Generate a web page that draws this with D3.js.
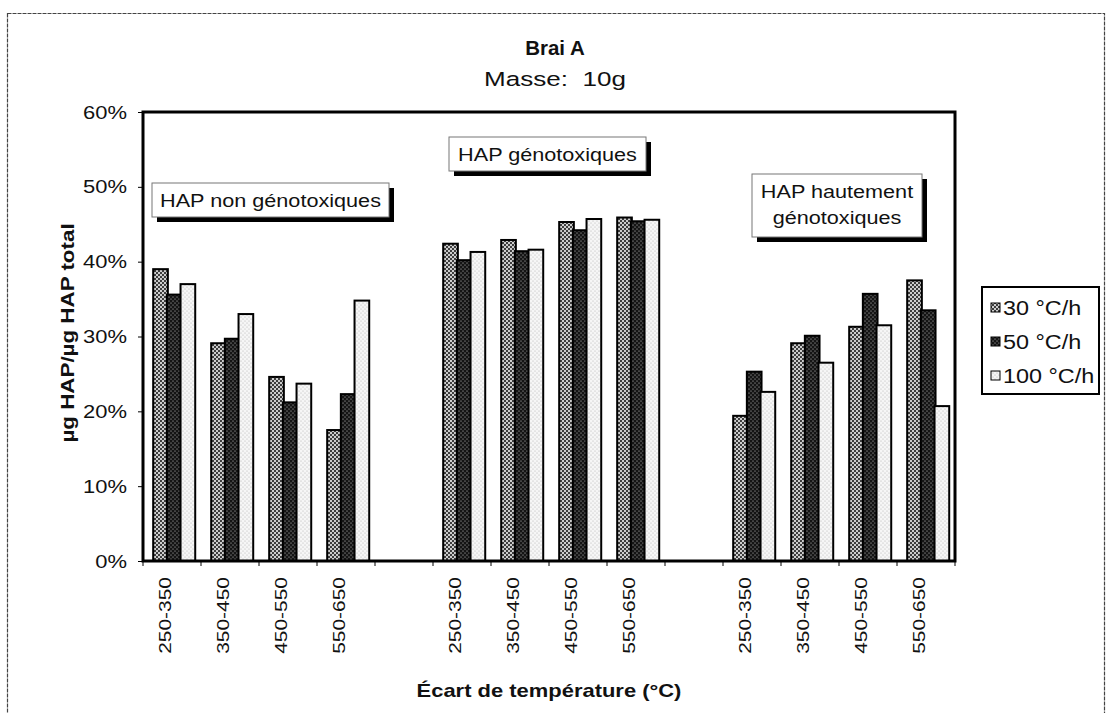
<!DOCTYPE html>
<html>
<head>
<meta charset="utf-8">
<script src="https://cdn.jsdelivr.net/npm/d3@7"></script>
<style>
  html, body { margin: 0; padding: 0; background: #fff; }
  svg { display: block; }
  text { font-family: "Liberation Sans", Arial, sans-serif; fill: #111; }
</style>
</head>
<body>
<svg id="chart" width="1113" height="713"></svg>
<script>
// ---------- data ----------
const groups = ["HAP non génotoxiques", "HAP génotoxiques", "HAP hautement génotoxiques"];
const categories = ["250-350", "350-450", "450-550", "550-650"];
const series = ["30 °C/h", "50 °C/h", "100 °C/h"];
const values30  = [39.0, 29.1, 24.6, 17.5, 42.4, 42.9, 45.3, 45.9, 19.4, 29.1, 31.3, 37.5];
const values50  = [35.6, 29.7, 21.2, 22.3, 40.2, 41.4, 44.2, 45.4, 25.3, 30.1, 35.7, 33.5];
const values100 = [37.0, 33.0, 23.7, 34.8, 41.3, 41.6, 45.7, 45.6, 22.6, 26.5, 31.5, 20.7];
const yTicks = [0, 10, 20, 30, 40, 50, 60];
const title = "Brai A";
const subtitle = "Masse:  10g";
const yTitle = "µg HAP/µg HAP total";
const xTitle = "Écart de température (°C)";

// ---------- layout ----------
const svg = d3.select("#chart");
const plot = { left: 143, right: 955, top: 112, bottom: 561 };

const slots = [];
groups.forEach((g, gi) => {
  categories.forEach(c => slots.push({ key: gi + "|" + c, label: c, gi }));
  if (gi < groups.length - 1) slots.push({ key: "gap" + gi, label: "", gi: -1 });
});
const rows = [];
groups.forEach((g, gi) => categories.forEach((c, ci) => {
  const idx = gi * categories.length + ci;
  rows.push({ slot: gi + "|" + c, vals: [values30[idx], values50[idx], values100[idx]] });
}));

const x = d3.scaleBand().domain(slots.map(s => s.key)).range([plot.left, plot.right]).padding(0);
const xi = d3.scaleBand().domain(series).range([0, x.bandwidth()]).paddingInner(0).paddingOuter(0.62).align(0.6);
const y = d3.scaleLinear().domain([0, 60]).range([plot.bottom, plot.top]);

// ---------- patterns ----------
const defs = svg.append("defs");
function pat(id, bg, dot, r) {
  const p = defs.append("pattern").attr("id", id).attr("patternUnits", "userSpaceOnUse")
    .attr("width", 4).attr("height", 4);
  p.append("rect").attr("width", 4).attr("height", 4).attr("fill", bg);
  [[1, 1], [3, 3]].forEach(([cx, cy]) => p.append("circle").attr("cx", cx).attr("cy", cy).attr("r", r).attr("fill", dot));
}
pat("p30", "#cdcdcd", "#000", 0.95);
pat("p50", "#141414", "#d8d8d8", 0.55);
pat("p100", "#f6f6f6", "#a8a8a8", 0.5);
const fills = ["url(#p30)", "url(#p50)", "url(#p100)"];

// ---------- outer frame ----------
svg.append("rect").attr("x", 7.5).attr("y", 13.5).attr("width", 1097).attr("height", 720)
  .attr("fill", "none").attr("stroke", "#444").attr("stroke-width", 1.2).attr("stroke-dasharray", "4,1");

// ---------- text helper (text is drawn slightly wide, like the original) ----------
function stext(sel, tx, ty, txt, size, weight, anchor, sx, rot) {
  return sel.append("text")
    .attr("transform", `translate(${tx},${ty})${rot ? " rotate(-90)" : ""} scale(${sx},1)`)
    .attr("text-anchor", anchor || "middle")
    .attr("font-size", size).attr("font-weight", weight || "normal")
    .attr("xml:space", "preserve")
    .text(txt);
}
stext(svg, 555, 55, title, 19.5, "bold", "middle", 1.05);
stext(svg, 555, 86, subtitle, 20.5, "normal", "middle", 1.27);

// ---------- y axis ----------
const yAxis = svg.append("g").attr("transform", `translate(${plot.left},0)`)
  .call(d3.axisLeft(y).tickValues(yTicks).tickSize(5).tickFormat(""));
yAxis.select(".domain").remove();
yAxis.selectAll("line").attr("stroke", "#000").attr("stroke-width", 1);
yTicks.forEach(v => {
  stext(svg, 127, y(v) + 6.5, v + "%", 18, "normal", "end", 1.22);
});
stext(svg, 74, 333, yTitle, 18.5, "bold", "middle", 1.21, true);

// ---------- bars ----------
const barG = svg.append("g");
rows.forEach(r => {
  r.vals.forEach((v, si) => {
    barG.append("rect")
      .attr("x", x(r.slot) + xi(series[si]))
      .attr("y", y(v))
      .attr("width", xi.bandwidth() + 1)
      .attr("height", y(0) - y(v))
      .attr("fill", fills[si])
      .attr("stroke", "#000").attr("stroke-width", 2);
  });
});

// ---------- plot frame ----------
svg.append("rect").attr("x", plot.left).attr("y", plot.top)
  .attr("width", plot.right - plot.left).attr("height", plot.bottom - plot.top)
  .attr("fill", "none").attr("stroke", "#000").attr("stroke-width", 3);

// ---------- x axis ticks (category boundaries) & labels ----------
const bounds = slots.map(s => x(s.key)).concat([x(slots[slots.length - 1].key) + x.bandwidth()]);
svg.append("g").selectAll("line").data(bounds).join("line")
  .attr("x1", d => d).attr("x2", d => d).attr("y1", plot.bottom).attr("y2", plot.bottom + 5)
  .attr("stroke", "#000").attr("stroke-width", 1);
slots.filter(s => s.label).forEach(s => {
  stext(svg, x(s.key) + x.bandwidth() / 2 - 1, 577, s.label, 16.5, "normal", "end", 1.27, true);
});
stext(svg, 549, 697, xTitle, 18, "bold", "middle", 1.22);

// ---------- annotation boxes ----------
const notes = [
  { lines: [groups[0]], x: 152, y: 183, w: 237, h: 34 },
  { lines: [groups[1]], x: 449, y: 137, w: 197, h: 34 },
  { lines: ["HAP hautement", "génotoxiques"], x: 752, y: 174, w: 170, h: 63 }
];
notes.forEach(n => {
  svg.append("rect").attr("x", n.x + 5).attr("y", n.y + 5).attr("width", n.w).attr("height", n.h).attr("fill", "#000");
  svg.append("rect").attr("x", n.x).attr("y", n.y).attr("width", n.w).attr("height", n.h)
    .attr("fill", "#fff").attr("stroke", "#777").attr("stroke-width", 1);
  n.lines.forEach((l, i) => {
    stext(svg, n.x + n.w / 2, n.y + 24 + i * 26, l, 18.5, "normal", "middle", 1.17);
  });
});

// ---------- legend ----------
const lg = svg.append("g");
lg.append("rect").attr("x", 982).attr("y", 287).attr("width", 117).attr("height", 107)
  .attr("fill", "#fff").attr("stroke", "#000").attr("stroke-width", 2);
series.forEach((s, i) => {
  const cy = 308 + i * 34;
  lg.append("rect").attr("x", 991).attr("y", cy - 5).attr("width", 9).attr("height", 9)
    .attr("fill", fills[i]).attr("stroke", "#000").attr("stroke-width", 1);
  stext(lg, 1003, cy + 7, s, 19.5, "normal", "start", 1.2);
});
</script>
</body>
</html>
